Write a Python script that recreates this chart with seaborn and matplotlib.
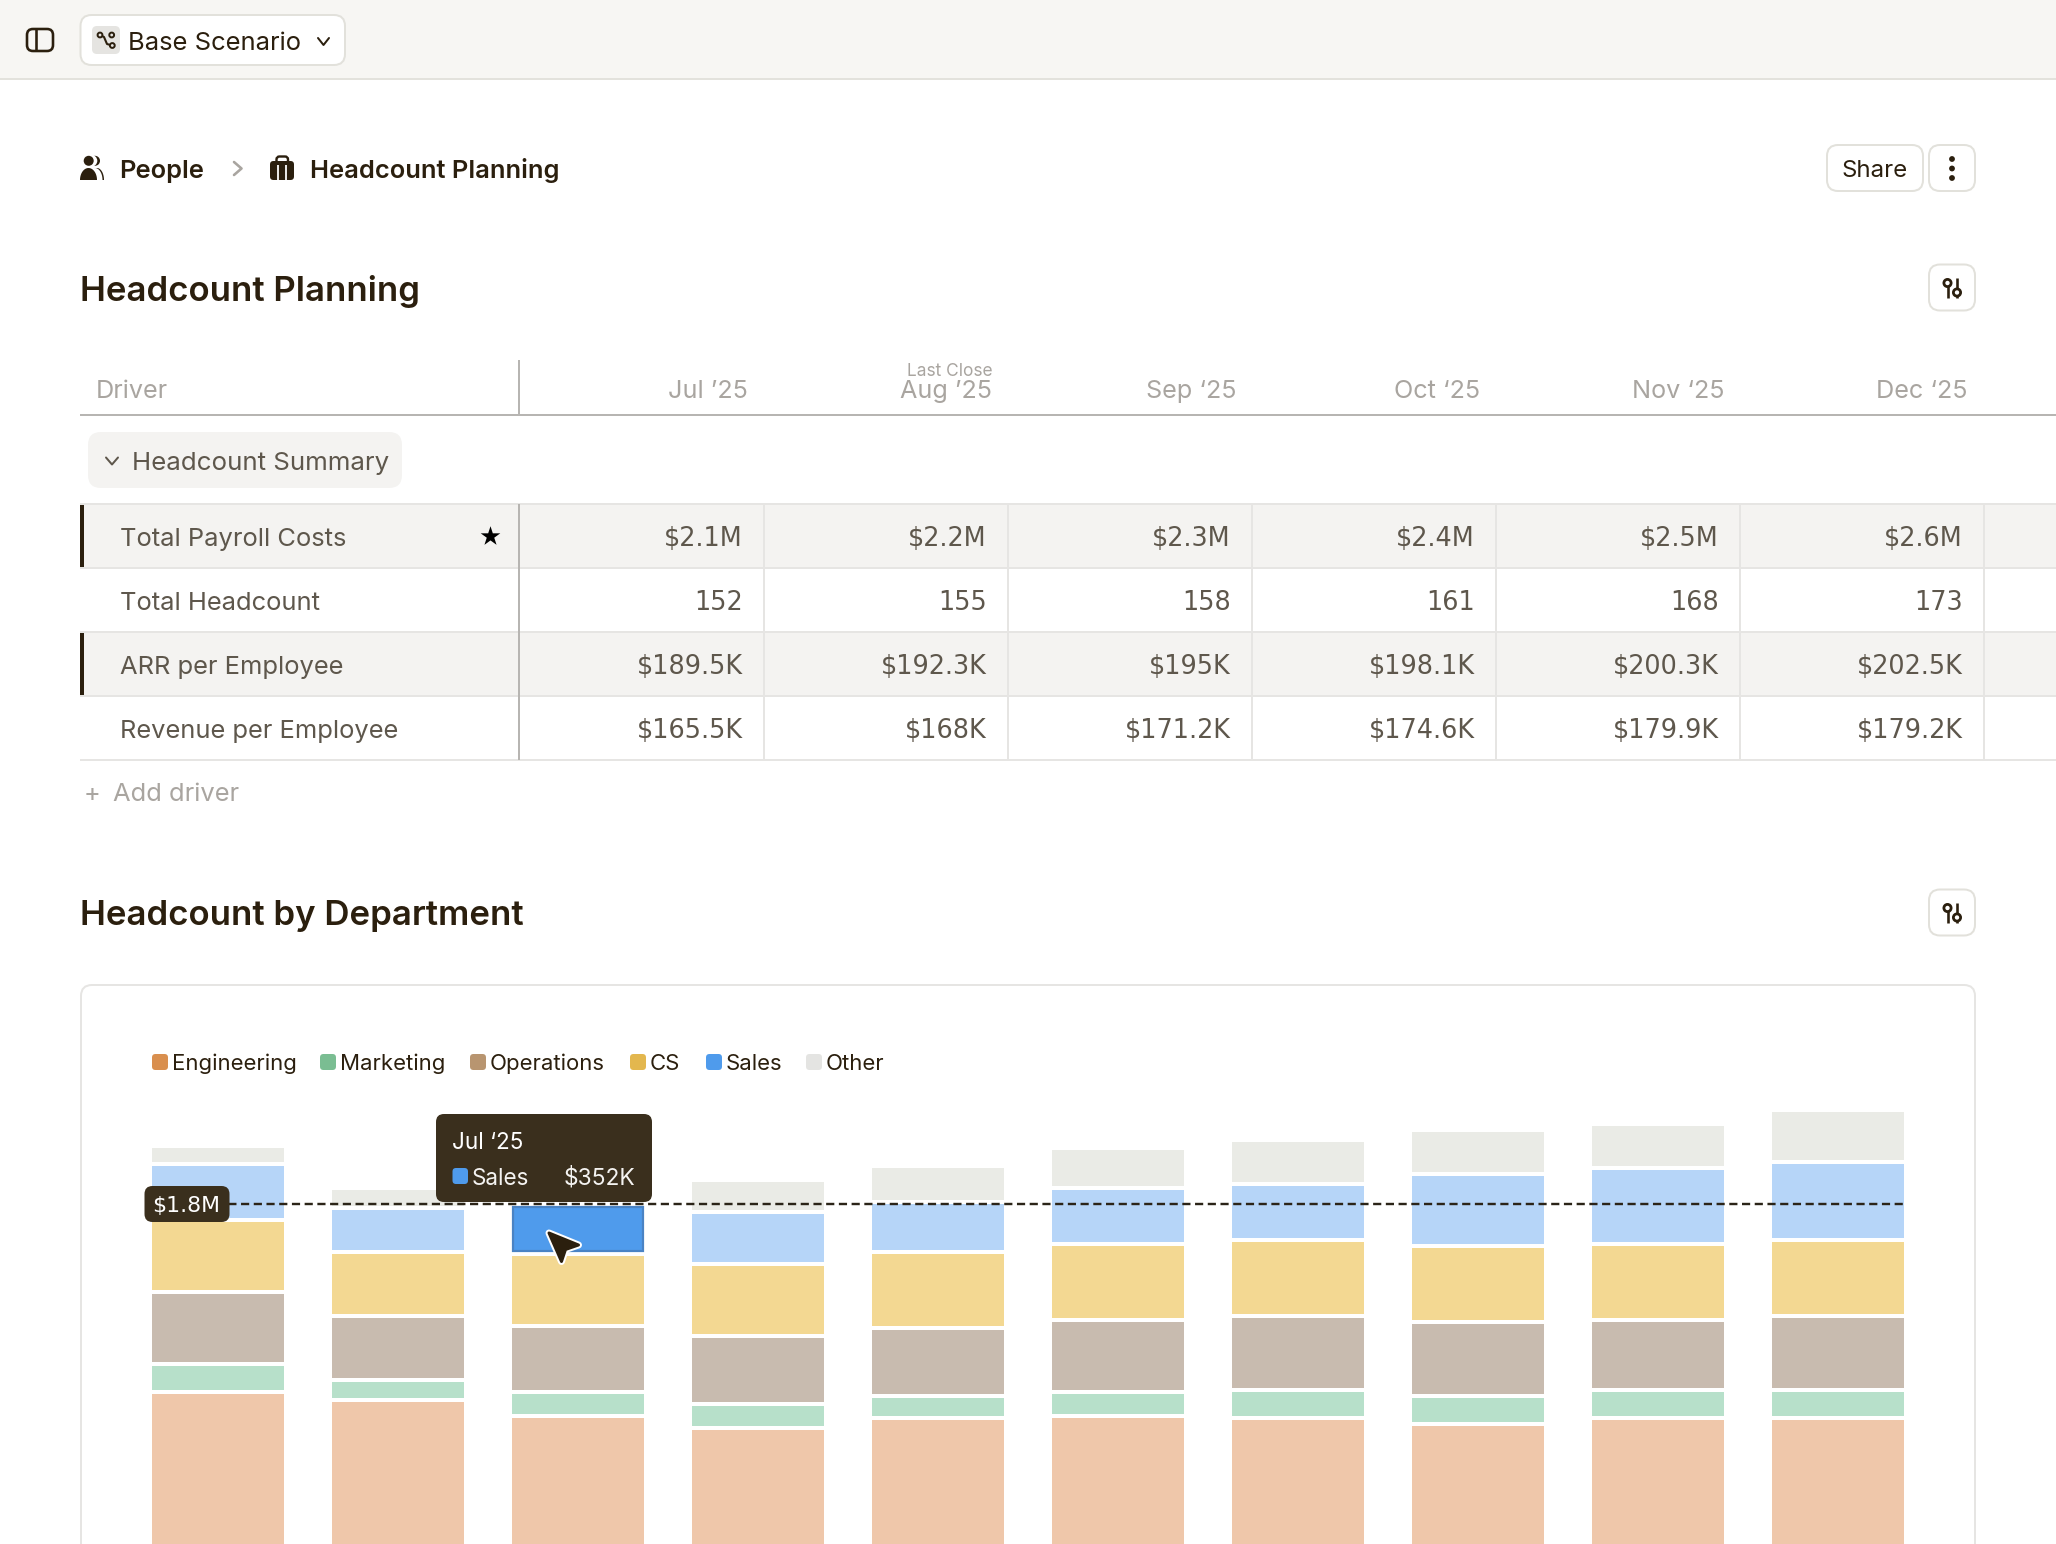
import numpy as np
import pandas as pd
import matplotlib
matplotlib.use("Agg")
import matplotlib.pyplot as plt
from matplotlib.patches import FancyBboxPatch, Rectangle, Circle, Polygon
import seaborn as sns

# ---------- data ----------
months = ["May '25", "Jun '25", "Jul '25", "Aug '25", "Sep '25", "Oct '25", "Nov '25", "Dec '25", "Jan '26", "Feb '26"]
series_names = ["Engineering", "Marketing", "Operations", "CS", "Sales", "Other"]
engineering = [954, 918, 845, 792, 837, 845, 837, 810, 837, 837]
marketing = [126, 90, 108, 108, 99, 108, 126, 126, 126, 126]
operations = [323, 288, 297, 306, 306, 324, 334, 333, 315, 334]
cs = [324, 287, 323, 323, 342, 342, 342, 342, 342, 342]
sales = [252, 199, 226, 235, 225, 251, 251, 324, 342, 350]
other = [80, 89, 70, 144, 163, 181, 198, 198, 198, 235]
target_value = 1800

table_columns = ["Jul ’25", "Aug ’25", "Sep ‘25", "Oct ‘25", "Nov ‘25", "Dec ‘25"]
table_rows = ["Total Payroll Costs", "Total Headcount", "ARR per Employee", "Revenue per Employee"]
payroll = ["$2.1M", "$2.2M", "$2.3M", "$2.4M", "$2.5M", "$2.6M"]
headcount = ["152", "155", "158", "161", "168", "173"]
arr_per = ["$189.5K", "$192.3K", "$195K", "$198.1K", "$200.3K", "$202.5K"]
rev_per = ["$165.5K", "$168K", "$171.2K", "$174.6K", "$179.9K", "$179.2K"]
legend_x = [152, 320, 470, 630, 706, 806]

pale = ["#EFC7AA", "#B7E0CA", "#C8BBAF", "#F3D892", "#B6D5F8", "#EAEBE6"]
solid = ["#D98F4E", "#7ABD92", "#B89570", "#E3B74E", "#4F9BEC", "#E4E4E2"]

# ---------- canvas ----------
W, H = 2056, 1544
sns.set_theme(style="white")
plt.rcParams["font.family"] = ["Inter", "DejaVu Sans"]
DARK = "#2B1F0E"
TXT = "#5E574C"
MUTED = "#A9A5A0"
LINE = "#E6E5E3"
STRONG = "#B7B5B2"

fig = plt.figure(figsize=(W / 100, H / 100), dpi=100, facecolor="white")


def px_axes(z):
    a = fig.add_axes([0, 0, 1, 1], zorder=z)
    a.set_xlim(0, W)
    a.set_ylim(H, 0)
    a.axis("off")
    a.patch.set_alpha(0)
    return a


bg = px_axes(0)
top = px_axes(2)


def rrect(a, x0, y0, x1, y1, r, fc="none", ec="none", lw=0, z=2):
    a.add_patch(FancyBboxPatch((x0 + r, y0 + r), x1 - x0 - 2 * r, y1 - y0 - 2 * r,
                               boxstyle=f"round,pad={r},rounding_size={r}",
                               fc=fc, ec=ec, lw=lw * 0.72, zorder=z))


def txt(a, x, cy, s, px, color=TXT, ha="left", weight="normal", z=5, family=None):
    kw = {"family": family} if family else {}
    a.text(x, cy + 0.36 * px, s, fontsize=px * 0.72, color=color, ha=ha, va="baseline",
           fontweight=weight, zorder=z, **kw)


def hl(a, x0, x1, y, c=LINE, lw=2, z=3):
    a.plot([x0, x1], [y, y], color=c, lw=lw * 0.72, solid_capstyle="butt", zorder=z)


def vl(a, x, y0, y1, c=LINE, lw=2, z=3):
    a.plot([x, x], [y0, y1], color=c, lw=lw * 0.72, solid_capstyle="butt", zorder=z)


def chevron(a, pts, c=DARK, lw=2):
    xs, ys = zip(*pts)
    a.plot(xs, ys, color=c, lw=lw * 0.72, solid_capstyle="round", solid_joinstyle="round", zorder=5)


def half_ell(cx, base, rx, ry):
    t = np.linspace(np.pi, 2 * np.pi, 30)
    return np.column_stack([cx + rx * np.cos(t), base + ry * np.sin(t)])


# top bar
bg.add_patch(Rectangle((0, 0), W, 78.5, fc="#F7F6F3", ec="none", zorder=1))
hl(bg, 0, W, 78.8, "#E3E2DC", 2)
rrect(bg, 27, 29, 53, 51, 6, ec=DARK, lw=2.6, z=3)
vl(bg, 36, 29, 51, DARK, 2.6)
rrect(bg, 80.5, 15, 345, 65, 11, fc="white", ec="#E2E1DB", lw=2, z=2)
rrect(bg, 92, 26, 120, 54, 5, fc="#E5E4E1", z=3)
bg.plot([100, 104, 107, 112], [35, 37, 44, 45.5], color=DARK, lw=1.5, zorder=4)
for c in [(100, 35), (111.7, 35), (112.3, 45.5)]:
    bg.add_patch(Circle(c, 2.4, fc="#E5E4E1", ec=DARK, lw=1.4, zorder=5))
txt(bg, 128, 41, "Base Scenario", 25.6, DARK)
chevron(bg, [(318, 38), (323.5, 45), (329, 38)], DARK, 2)

# breadcrumb
bg.add_patch(Polygon(half_ell(97, 180, 7, 12), fc=DARK, ec="none", zorder=3))
bg.add_patch(Polygon(half_ell(95, 180, 7.5, 12), fc="white", ec="none", zorder=3.5))
bg.add_patch(Polygon(half_ell(88.5, 180, 8.5, 12), fc=DARK, ec="none", zorder=4))
bg.add_patch(Circle((95, 160.8), 5, fc=DARK, ec="none", zorder=3))
bg.add_patch(Circle((91.5, 160.8), 5.8, fc="white", ec="none", zorder=3.5))
bg.add_patch(Circle((88.7, 160.8), 5, fc=DARK, ec="none", zorder=4))
txt(bg, 119.5, 169, "People", 25.5, DARK, weight="semibold")
chevron(bg, [(234, 162), (241.5, 168.5), (234, 175)], MUTED, 2.6)
rrect(bg, 276.5, 156.5, 288, 166, 3, ec=DARK, lw=2.4, z=3)
rrect(bg, 270, 161, 294, 180, 3.5, fc=DARK, z=4)
vl(bg, 278, 165, 180, "white", 1.8, z=5)
vl(bg, 286, 165, 180, "white", 1.8, z=5)
txt(bg, 310.5, 169, "Headcount Planning", 25.5, DARK, weight="semibold")

rrect(bg, 1827, 145, 1923, 191, 11, fc="white", ec="#E2E1DB", lw=2)
txt(bg, 1875, 168, "Share", 24, DARK, ha="center")
rrect(bg, 1929, 145, 1975, 191, 11, fc="white", ec="#E2E1DB", lw=2)
for y in (159, 168.5, 178):
    bg.add_patch(Circle((1952, y), 2.9, fc=DARK, ec="none", zorder=4))


def filter_button(cy):
    rrect(bg, 1929, cy - 23, 1975, cy + 23, 11, fc="white", ec="#E2E1DB", lw=2)
    vl(bg, 1947.5, cy - 9, cy + 10, DARK, 2.6, z=4)
    vl(bg, 1957, cy - 10, cy + 10, DARK, 2.6, z=4)
    bg.add_patch(Circle((1947.5, cy - 4.5), 3.6, fc="white", ec=DARK, lw=2, zorder=5))
    bg.add_patch(Circle((1957, cy + 5), 3.6, fc="white", ec=DARK, lw=2, zorder=5))


# section titles
txt(bg, 80.5, 288, "Headcount Planning", 34.8, DARK, weight="semibold")
filter_button(287.5)
txt(bg, 80.5, 912.5, "Headcount by Department", 34.8, DARK, weight="semibold")
filter_button(912.5)

# table header
header_right = [748, 992, 1236, 1480, 1724, 1968]
txt(bg, 96, 388.5, "Driver", 25.2, MUTED)
for xr, c in zip(header_right, table_columns):
    txt(bg, xr, 388.5, c, 25.2, MUTED, ha="right")
txt(bg, 993, 370, "Last Close", 17.3, MUTED, ha="right")
hl(bg, 80, W, 415, STRONG, 2)

# group pill
rrect(bg, 88, 432, 402, 488, 13, fc="#F4F3F1")
chevron(bg, [(106, 457.5), (112, 464.5), (118, 457.5)], TXT, 2)
txt(bg, 132.5, 461, "Headcount Summary", 25.9, TXT)

# table rows
row_values = [payroll, headcount, arr_per, rev_per]
row_top = [504, 568, 632, 696]
row_h = 64
cell_dividers = [764, 1008, 1252, 1496, 1740, 1984]
value_right = [743, 987, 1231, 1475, 1719, 1963]
for i, (name, vals) in enumerate(zip(table_rows, row_values)):
    y0 = row_top[i]
    if i % 2 == 0:
        bg.add_patch(Rectangle((80, y0), W - 80, row_h, fc="#F4F3F1", ec="none", zorder=1))
        bg.add_patch(Rectangle((80, y0 + 1), 4, row_h - 2, fc=DARK, ec="none", zorder=4))
    cy = y0 + 33
    txt(bg, 120.5, cy, name, 25.5, TXT)
    for xr, v in zip(value_right, vals):
        txt(bg, xr, cy, v, 25.5, TXT, ha="right", family="DejaVu Sans")
for y in row_top + [760]:
    hl(bg, 80, W, y, LINE, 2)
for x in cell_dividers:
    vl(bg, x, 504, 760, LINE, 2)
vl(bg, 519, 360, 415, STRONG, 2, z=4)
vl(bg, 519, 504, 760, STRONG, 2, z=4)
bg.scatter([490], [536], marker="*", s=220, c="black", linewidths=0, zorder=6)
txt(bg, 84, 792, "+", 25.5, MUTED)
txt(bg, 113, 792, "Add driver", 25.5, MUTED)

# chart card
rrect(bg, 81, 985, 1975, 1640, 11, fc="white", ec="#E6E5E3", lw=2)

# legend
for x, name, c in zip(legend_x, series_names, solid):
    rrect(bg, x, 1054, x + 16, 1070, 3.5, fc=c)
    txt(bg, x + 19.5, 1062.5, name, 22.1, DARK)

# ---------- stacked bars ----------
Y_LOW, Y_HIGH = 270, 2268      # value shown at the bottom/top edge of the axes
STEP = 180
ax = fig.add_axes([128 / W, 0, 1800 / W, 444 / H], zorder=1)
ax.patch.set_alpha(0)

stack = [engineering, marketing, operations, cs, sales, other]
long = pd.DataFrame({
    "month": np.tile(months, len(series_names)),
    "series": np.repeat(series_names, len(months)),
    "value": np.concatenate(stack),
})
bottom = np.zeros(len(months))
for name, c in zip(series_names, pale):
    part = long[long["series"] == name]
    sns.barplot(data=part, x="month", y="value", order=months, color=c, saturation=1,
                width=136 / STEP, bottom=bottom, edgecolor="white", linewidth=4 * 0.72,
                errorbar=None, ax=ax)
    bottom = bottom + part["value"].to_numpy()
ax.set_xlim(-0.5, len(months) - 0.5)
ax.set_ylim(Y_LOW, Y_HIGH)
ax.axis("off")

half = 132 / STEP / 2
ax.plot([-half, len(months) - 1 + half], [target_value, target_value], color="#2B2418",
        lw=2.4 * 0.72, linestyle=(0, (3.4, 1.9)), zorder=5)

# highlighted Sales segment for Jul '25
idx = months.index("Jul '25")
bar = ax.containers[series_names.index("Sales")][idx]
bar.set_facecolor(solid[4])
fig.canvas.draw()
ext = bar.get_window_extent()
top.add_patch(Rectangle((ext.x0 + 3, H - ext.y1 + 3), ext.width - 6, ext.height - 6,
                        fc="none", ec="#4A83C4", lw=2.2 * 0.72, zorder=1))

# tooltip
rrect(top, 436, 1114, 652, 1202, 8, fc="#3A2F1D", z=6)
txt(top, 452.5, 1140.5, "Jul ‘25", 22.5, "white", z=7)
rrect(top, 452.5, 1168, 468, 1184, 3.5, fc=solid[4], z=7)
txt(top, 472, 1176.5, "Sales", 22.5, "#F4F3F1", z=7)
txt(top, 635, 1176.5, "$352K", 22.8, "#F4F3F1", ha="right", z=7)

# target label
rrect(top, 144.5, 1186, 229.5, 1222, 8, fc="#3A2F1D", z=6)
txt(top, 186.5, 1204, "$1.8M", 22, "white", ha="center", z=7, family="DejaVu Sans")

# cursor
cursor_outline = [(549, 1233), (578.5, 1245), (565.5, 1249.5), (561.5, 1261.5)]
top.add_patch(Polygon(cursor_outline, closed=True, fc="white", ec="white", lw=7 * 0.72,
                      joinstyle="round", zorder=8))
top.add_patch(Polygon(cursor_outline, closed=True, fc="#2B1F0E", ec="#2B1F0E", lw=3 * 0.72,
                      joinstyle="round", zorder=9))

fig.savefig("out.png", dpi=100, facecolor="white")
